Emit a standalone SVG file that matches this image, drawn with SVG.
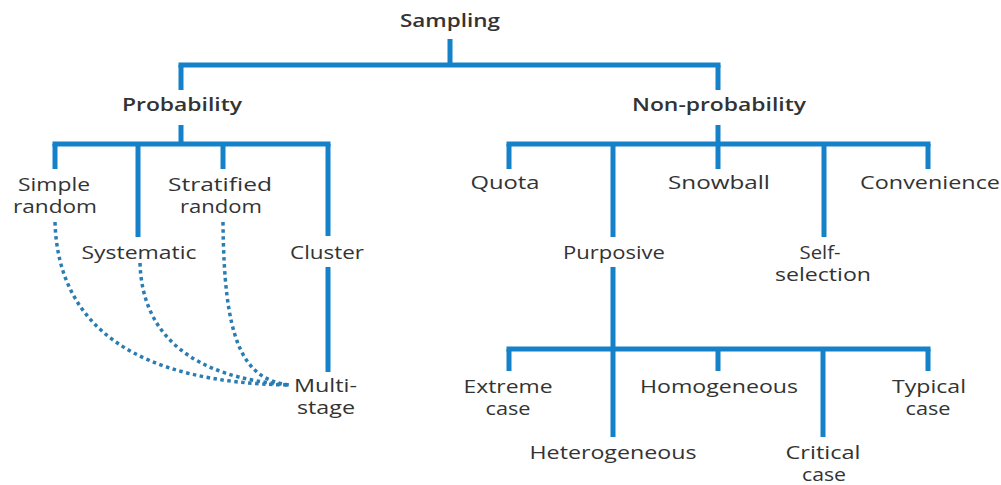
<svg xmlns="http://www.w3.org/2000/svg" width="1001" height="485" viewBox="0 0 1001 485">
  <style>
    .bg { fill: #ffffff; }
    .lbl { font-family: "Open Sans", "Noto Sans", "Liberation Sans", sans-serif; font-size: 18px; fill: #333333; text-anchor: middle; }
    .head { font-weight: 600; }
    .tree { stroke: #1481c8; stroke-width: 5; fill: none; stroke-linecap: butt; }
    .link { stroke: #2a7db3; stroke-width: 3.5; fill: none; stroke-dasharray: 3.5 3.5; }
  </style>
  <rect class="bg" x="0" y="0" width="1001" height="485"/>

  <!-- solid tree connectors -->
  <g id="connectors">
    <g class="tree">
      <!-- root split -->
      <line x1="450" y1="39" x2="450" y2="65"/>
      <line x1="178.5" y1="65" x2="720.5" y2="65"/>
      <line x1="181" y1="65" x2="181" y2="90"/>
      <line x1="718" y1="65" x2="718" y2="90"/>
      <!-- probability branch -->
      <line x1="181" y1="125" x2="181" y2="144"/>
      <line x1="52.5" y1="144" x2="330.5" y2="144"/>
      <line x1="55" y1="144" x2="55" y2="169"/>
      <line x1="138" y1="144" x2="138" y2="237"/>
      <line x1="223" y1="144" x2="223" y2="169"/>
      <line x1="328" y1="144" x2="328" y2="236"/>
      <line x1="328" y1="267" x2="328" y2="372"/>
      <!-- non-probability branch -->
      <line x1="718" y1="125" x2="718" y2="169"/>
      <line x1="506.5" y1="144" x2="930.5" y2="144"/>
      <line x1="509" y1="144" x2="509" y2="169"/>
      <line x1="613" y1="144" x2="613" y2="237"/>
      <line x1="824" y1="144" x2="824" y2="237"/>
      <line x1="928" y1="144" x2="928" y2="169"/>
      <!-- purposive sub-branch -->
      <line x1="613" y1="267" x2="613" y2="437"/>
      <line x1="506.5" y1="349" x2="930.5" y2="349"/>
      <line x1="509" y1="349" x2="509" y2="371"/>
      <line x1="718" y1="349" x2="718" y2="371"/>
      <line x1="823" y1="349" x2="823" y2="437"/>
      <line x1="928" y1="349" x2="928" y2="371"/>
    </g>
    <!-- dotted links into multi-stage -->
    <g class="link">
      <path d="M55,222 C58,328 138,383 290,385"/>
      <path d="M140,263 C142,335 192,378 290,385"/>
      <path d="M223,222 C224,335 240,380 290,385"/>
    </g>
  </g>

  <g id="sampling"><text class="lbl head" x="450" y="27" textLength="100" lengthAdjust="spacingAndGlyphs">Sampling</text></g>
  <g id="probability"><text class="lbl head" x="182" y="111" textLength="120" lengthAdjust="spacingAndGlyphs">Probability</text></g>
  <g id="non-probability"><text class="lbl head" x="719" y="111" textLength="174" lengthAdjust="spacingAndGlyphs">Non-probability</text></g>

  <g id="simple-random">
    <text class="lbl" x="54" y="191" textLength="72" lengthAdjust="spacingAndGlyphs">Simple</text>
    <text class="lbl" x="55" y="213" textLength="84" lengthAdjust="spacingAndGlyphs">random</text>
  </g>
  <g id="systematic"><text class="lbl" x="139" y="259" textLength="115" lengthAdjust="spacingAndGlyphs">Systematic</text></g>
  <g id="stratified-random">
    <text class="lbl" x="220" y="191" textLength="104" lengthAdjust="spacingAndGlyphs">Stratified</text>
    <text class="lbl" x="221" y="213" textLength="82" lengthAdjust="spacingAndGlyphs">random</text>
  </g>
  <g id="cluster"><text class="lbl" x="327" y="259" textLength="74" lengthAdjust="spacingAndGlyphs">Cluster</text></g>
  <g id="multi-stage">
    <text class="lbl" x="325.5" y="392" textLength="63" lengthAdjust="spacingAndGlyphs">Multi-</text>
    <text class="lbl" x="326" y="414" textLength="58" lengthAdjust="spacingAndGlyphs">stage</text>
  </g>

  <g id="quota"><text class="lbl" x="505" y="189" textLength="69" lengthAdjust="spacingAndGlyphs">Quota</text></g>
  <g id="purposive"><text class="lbl" x="614" y="259" textLength="102" lengthAdjust="spacingAndGlyphs">Purposive</text></g>
  <g id="snowball"><text class="lbl" x="719" y="189" textLength="102" lengthAdjust="spacingAndGlyphs">Snowball</text></g>
  <g id="self-selection">
    <text class="lbl" x="820" y="259" textLength="41" lengthAdjust="spacingAndGlyphs">Self-</text>
    <text class="lbl" x="823" y="281" textLength="96" lengthAdjust="spacingAndGlyphs">selection</text>
  </g>
  <g id="convenience"><text class="lbl" x="930" y="189" textLength="140" lengthAdjust="spacingAndGlyphs">Convenience</text></g>

  <g id="extreme-case">
    <text class="lbl" x="508" y="393" textLength="89" lengthAdjust="spacingAndGlyphs">Extreme</text>
    <text class="lbl" x="508" y="415" textLength="45" lengthAdjust="spacingAndGlyphs">case</text>
  </g>
  <g id="heterogeneous"><text class="lbl" x="613" y="459" textLength="167" lengthAdjust="spacingAndGlyphs">Heterogeneous</text></g>
  <g id="homogeneous"><text class="lbl" x="719" y="393" textLength="158" lengthAdjust="spacingAndGlyphs">Homogeneous</text></g>
  <g id="critical-case">
    <text class="lbl" x="823" y="459" textLength="75" lengthAdjust="spacingAndGlyphs">Critical</text>
    <text class="lbl" x="824" y="481" textLength="44" lengthAdjust="spacingAndGlyphs">case</text>
  </g>
  <g id="typical-case">
    <text class="lbl" x="929" y="393" textLength="74" lengthAdjust="spacingAndGlyphs">Typical</text>
    <text class="lbl" x="928" y="415" textLength="45" lengthAdjust="spacingAndGlyphs">case</text>
  </g>
</svg>
